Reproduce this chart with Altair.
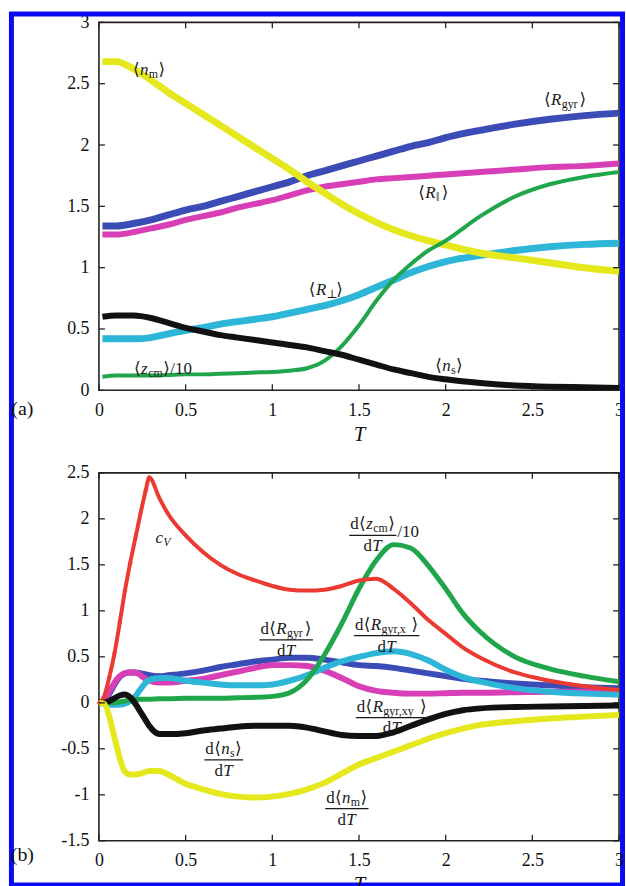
import altair as alt
import pandas as pd

# ---------------- panel (a): thermal averages vs temperature ----------------
T_A = [0.02, 0.1, 0.2, 0.3, 0.4, 0.5, 0.6, 0.7, 0.8, 0.9, 1.0, 1.1, 1.2, 1.3, 1.4,
       1.5, 1.6, 1.7, 1.8, 1.9, 2.0, 2.2, 2.4, 2.6, 2.8, 3.0]
N_M = [2.68, 2.68, 2.62, 2.53, 2.43, 2.34, 2.25, 2.16, 2.07, 1.98, 1.89, 1.80, 1.70,
       1.61, 1.52, 1.44, 1.37, 1.31, 1.26, 1.22, 1.185, 1.12, 1.08, 1.04, 1.00, 0.97]
R_GYR = [1.34, 1.34, 1.36, 1.39, 1.43, 1.47, 1.50, 1.54, 1.58, 1.62, 1.66, 1.70, 1.75,
         1.79, 1.83, 1.87, 1.91, 1.95, 1.99, 2.02, 2.06, 2.12, 2.17, 2.21, 2.24, 2.26]
R_PAR = [1.27, 1.27, 1.29, 1.32, 1.35, 1.39, 1.42, 1.45, 1.49, 1.52, 1.55, 1.59, 1.63,
         1.66, 1.68, 1.70, 1.72, 1.73, 1.74, 1.75, 1.76, 1.78, 1.80, 1.82, 1.83, 1.85]
R_PERP = [0.42, 0.42, 0.42, 0.43, 0.46, 0.49, 0.51, 0.54, 0.56, 0.58, 0.60, 0.63, 0.66,
          0.69, 0.73, 0.78, 0.84, 0.90, 0.96, 1.01, 1.05, 1.10, 1.14, 1.17, 1.19, 1.20]
N_S = [0.60, 0.61, 0.61, 0.59, 0.55, 0.51, 0.48, 0.45, 0.43, 0.41, 0.39, 0.37, 0.35,
       0.32, 0.29, 0.25, 0.21, 0.17, 0.14, 0.11, 0.09, 0.06, 0.04, 0.03, 0.025, 0.02]
Z_CM = [0.11, 0.12, 0.12, 0.12, 0.125, 0.13, 0.13, 0.135, 0.14, 0.145, 0.15, 0.16, 0.18,
        0.24, 0.36, 0.53, 0.73, 0.90, 1.03, 1.14, 1.22, 1.42, 1.58, 1.68, 1.74, 1.78]

# ---------------- panel (b): heat capacity and derivatives ----------------
T_B = [0, 0.03, 0.06, 0.09, 0.12, 0.15, 0.18, 0.21, 0.24, 0.27, 0.29, 0.35, 0.4, 0.5,
       0.6, 0.7, 0.8, 0.9, 1.0, 1.1, 1.2, 1.3, 1.4, 1.5, 1.6, 1.7, 1.8, 1.9, 2.0, 2.1,
       2.2, 2.4, 2.6, 2.8, 3.0]
C_V = [0.0, 0.07, 0.28, 0.54, 0.87, 1.22, 1.52, 1.79, 2.06, 2.31, 2.45, 2.22, 2.05, 1.82,
       1.64, 1.50, 1.40, 1.33, 1.27, 1.23, 1.22, 1.23, 1.27, 1.33, 1.35, 1.24, 1.08, 0.90,
       0.75, 0.60, 0.49, 0.33, 0.24, 0.18, 0.14]
DZ_CM = [0.0, 0.0, 0.0, 0.0, 0.01, 0.02, 0.03, 0.035, 0.04, 0.04, 0.04, 0.045, 0.045, 0.05,
         0.05, 0.05, 0.055, 0.06, 0.07, 0.11, 0.25, 0.52, 0.86, 1.24, 1.55, 1.72, 1.68, 1.49,
         1.24, 0.97, 0.77, 0.50, 0.37, 0.29, 0.23]
DR_GYR = [0.0, 0.02, 0.10, 0.20, 0.28, 0.32, 0.33, 0.33, 0.32, 0.31, 0.30, 0.29, 0.30, 0.32,
          0.35, 0.39, 0.42, 0.45, 0.47, 0.49, 0.49, 0.47, 0.44, 0.41, 0.40, 0.38, 0.35, 0.32,
          0.29, 0.26, 0.24, 0.21, 0.19, 0.17, 0.16]
DR_XY = [0.0, 0.03, 0.12, 0.22, 0.29, 0.32, 0.33, 0.33, 0.30, 0.26, 0.24, 0.22, 0.22, 0.24,
         0.26, 0.30, 0.34, 0.38, 0.41, 0.41, 0.40, 0.35, 0.27, 0.18, 0.13, 0.11, 0.10, 0.10,
         0.105, 0.11, 0.11, 0.115, 0.12, 0.12, 0.125]
DR_X = [0.0, -0.01, -0.02, -0.02, -0.02, -0.01, 0.02, 0.07, 0.15, 0.22, 0.25, 0.27, 0.27, 0.24,
        0.22, 0.20, 0.19, 0.19, 0.20, 0.24, 0.30, 0.38, 0.45, 0.50, 0.54, 0.56, 0.53, 0.46,
        0.36, 0.28, 0.23, 0.16, 0.12, 0.10, 0.09]
DN_S = [0.0, 0.0, 0.02, 0.05, 0.08, 0.09, 0.06, -0.01, -0.10, -0.19, -0.25, -0.34, -0.34, -0.33,
        -0.30, -0.28, -0.26, -0.25, -0.25, -0.25, -0.27, -0.31, -0.35, -0.36, -0.36, -0.32,
        -0.25, -0.18, -0.12, -0.08, -0.06, -0.045, -0.04, -0.035, -0.03]
DN_M = [0.0, -0.01, -0.15, -0.38, -0.60, -0.75, -0.78, -0.78, -0.77, -0.75, -0.74, -0.74, -0.78,
        -0.88, -0.94, -0.99, -1.02, -1.03, -1.02, -0.99, -0.94, -0.87, -0.77, -0.67, -0.60,
        -0.53, -0.46, -0.39, -0.33, -0.28, -0.24, -0.20, -0.17, -0.15, -0.13]

# axis ticks
X_TICKS = [0, 0.5, 1, 1.5, 2, 2.5, 3]
YA_TICKS = [0, 0.5, 1, 1.5, 2, 2.5, 3]
YB_TICKS = [-1.5, -1, -0.5, 0, 0.5, 1, 1.5, 2, 2.5]

YELLOW = "#e4e81c"
BLUE = "#3c4cb6"
MAGENTA = "#d83eb5"
CYAN = "#2eb6d8"
GREEN = "#1fa64a"
BLACK = "#111111"
RED = "#ea3a32"

SERIF = "Liberation Serif, DejaVu Serif, serif"
W, H = 523, 370
TICK = 6

# approximate advance widths (em) used to lay out the math labels
CHAR_EM = {"⟨": 0.42, "⟩": 0.42, "R": 0.63, "T": 0.58, "m": 0.80, "r": 0.40, "s": 0.42,
           ",": 0.45, "c": 0.46, "z": 0.42, "/": 0.30, "V": 0.63, "‖": 0.50, "⊥": 0.80,
           "d": 0.52, "n": 0.52, "g": 0.54, "y": 0.56, "x": 0.56, "1": 0.5, "0": 0.5}
SIZES = {"rm": 17, "it": 17, "sub": 12, "subit": 12}
SUB_DROP = 4


def make_panel(ydomain, yticks, series, labels, fracs, tag, tag_y, extra=None):
    xs = alt.Scale(domain=[0, 3], nice=False, zero=False)
    ys = alt.Scale(domain=ydomain, nice=False, zero=False)
    xax = alt.Axis(values=X_TICKS, ticks=False, tickSize=0, domain=False, grid=False,
                   labelPadding=11, labelFont=SERIF, labelFontSize=18, labelColor="#111",
                   labelExpr="datum.value + ''", labelFlush=False,
                   title="T", titleFont=SERIF, titleFontStyle="italic",
                   titleFontWeight="normal", titleFontSize=21, titlePadding=4,
                   titleColor="#111")
    yax = alt.Axis(values=yticks, ticks=False, tickSize=0, domain=False, grid=False,
                   labelPadding=10, labelFont=SERIF, labelFontSize=18, labelColor="#111",
                   labelExpr="datum.value + ''", labelFlush=False, title=None)

    def X():
        return alt.X("T:Q", scale=xs, axis=xax)

    def Y():
        return alt.Y("v:Q", scale=ys, axis=yax)

    layers = []
    for T, vals, color, width in series:
        df = pd.DataFrame({"T": T, "v": vals})
        layers.append(alt.Chart(df).mark_line(interpolate="monotone", color=color,
                                              strokeWidth=width, clip=True)
                      .encode(x=X(), y=Y()))
    if extra is not None:
        layers.extend(extra(X, Y))

    # inward tick marks on all four sides
    xt = pd.DataFrame({"T": X_TICKS})
    yt = pd.DataFrame({"v": yticks})
    layers.append(alt.Chart(xt).mark_rule(color="#222", strokeWidth=1.3)
                  .encode(x=X(), y=alt.value(0), y2=alt.value(TICK)))
    layers.append(alt.Chart(xt).mark_rule(color="#222", strokeWidth=1.3)
                  .encode(x=X(), y=alt.value(H - TICK), y2=alt.value(H)))
    layers.append(alt.Chart(yt).mark_rule(color="#222", strokeWidth=1.3)
                  .encode(y=Y(), x=alt.value(0), x2=alt.value(TICK)))
    layers.append(alt.Chart(yt).mark_rule(color="#222", strokeWidth=1.3)
                  .encode(y=Y(), x=alt.value(W - TICK), x2=alt.value(W)))

    def txt(T, v, s, dx, dy, size, style):
        df = pd.DataFrame({"T": [T], "v": [v], "s": [s]})
        return (alt.Chart(df)
                .mark_text(font=SERIF, fontSize=size, fontStyle=style, align="left",
                           baseline="middle", dx=dx, dy=dy, color="#1a1a1a")
                .encode(x=X(), y=Y(), text="s:N"))

    def row(T, v, tokens, dy):
        widths = [sum(CHAR_EM.get(c, 0.52) for c in t) * SIZES[k] for t, k in tokens]
        total = sum(widths)
        x = -total / 2
        out = []
        for (t, k), w in zip(tokens, widths):
            sub = k in ("sub", "subit")
            style = "italic" if k in ("it", "subit") else "normal"
            out.append(txt(T, v, t, x, dy + (SUB_DROP if sub else 0), SIZES[k], style))
            x += w
        return out, total

    for T, v, tokens in labels:
        out, _ = row(T, v, tokens, 0)
        layers.extend(out)

    for T, v, num, den, tail in fracs:
        a, wn = row(T, v, num, -11)
        b, wd = row(T, v, den, 11)
        w = max(wn, wd) + 2
        layers.extend(a)
        layers.extend(b)
        bar = pd.DataFrame({"T": [T], "v": [v]})
        layers.append(alt.Chart(bar)
                      .mark_rule(xOffset=-w / 2, x2Offset=w / 2, color="#1a1a1a",
                                 strokeWidth=1.2)
                      .encode(x=X(), x2=alt.X2("T:Q"), y=Y()))
        if tail:
            layers.append(txt(T, v, tail, w / 2 + 1, -3, 17, "normal"))

    # panel tag
    tag_df = pd.DataFrame({"s": [tag]})
    layers.append(alt.Chart(tag_df)
                  .mark_text(font=SERIF, fontSize=20, align="center", baseline="middle",
                             color="#111")
                  .encode(x=alt.value(-77), y=alt.value(tag_y), text="s:N"))
    return alt.layer(*layers).properties(width=W, height=H)


def br(sub):
    return [("⟨", "rm"), ("R", "it"), (sub, "sub"), ("⟩", "rm")]


labels_a = [
    (0.29, 2.61, [("⟨", "rm"), ("n", "it"), ("m", "sub"), ("⟩", "rm")]),
    (2.69, 2.37, br("gyr")),
    (1.93, 1.61, br("‖")),
    (1.31, 0.82, br("⊥")),
    (2.02, 0.20, [("⟨", "rm"), ("n", "it"), ("s", "sub"), ("⟩", "rm")]),
    (0.37, 0.17, [("⟨", "rm"), ("z", "it"), ("cm", "sub"), ("⟩", "rm"), ("/10", "rm")]),
]

DEN = [("d", "rm"), ("T", "it")]
labels_b = [(0.37, 1.79, [("c", "it"), ("V", "subit")])]
fracs_b = [
    (1.08, 0.685, [("d", "rm")] + br("gyr"), DEN, None),
    (1.58, 1.82, [("d", "rm"), ("⟨", "rm"), ("z", "it"), ("cm", "sub"), ("⟩", "rm")], DEN, "/10"),
    (1.66, 0.73, [("d", "rm")] + br("gyr,x"), DEN, None),
    (1.69, -0.16, [("d", "rm")] + br("gyr,xy"), DEN, None),
    (0.72, -0.62, [("d", "rm"), ("⟨", "rm"), ("n", "it"), ("s", "sub"), ("⟩", "rm")], DEN, None),
    (1.43, -1.15, [("d", "rm"), ("⟨", "rm"), ("n", "it"), ("m", "sub"), ("⟩", "rm")], DEN, None),
]


def frame(X, Y):
    # blue outline around the whole figure
    df = pd.DataFrame({"s": ["frame"]})
    return [alt.Chart(df).mark_rect(fillOpacity=0, stroke="#0a0af5", strokeWidth=5)
            .encode(x=alt.value(-88), x2=alt.value(526.5),
                    y=alt.value(-8.5), y2=alt.value(867.5))]


def cv_markers(X, Y):
    df = pd.DataFrame({"T": T_B, "v": C_V})
    return [alt.Chart(df).transform_filter("datum.T <= 0.29")
            .mark_point(shape="cross", filled=True, size=22, color=RED)
            .encode(x=X(), y=Y())]


series_a = [
    (T_A, R_PERP, CYAN, 7),
    (T_A, R_GYR, BLUE, 7),
    (T_A, R_PAR, MAGENTA, 6),
    (T_A, N_M, YELLOW, 7),
    (T_A, Z_CM, GREEN, 4),
    (T_A, N_S, BLACK, 6),
]
series_b = [
    (T_B, DR_GYR, BLUE, 6),
    (T_B, DR_XY, MAGENTA, 6),
    (T_B, DR_X, CYAN, 6),
    (T_B, DZ_CM, GREEN, 5),
    (T_B, C_V, RED, 4),
    (T_B, DN_S, BLACK, 6),
    (T_B, DN_M, YELLOW, 6),
]

panel_a = make_panel([0, 3], YA_TICKS, series_a, labels_a, [], "(a)", 389, extra=frame)
panel_b = make_panel([-1.5, 2.5], YB_TICKS, series_b, labels_b, fracs_b, "(b)", 384,
                     extra=cv_markers)

chart = (alt.VConcatChart(vconcat=[panel_a, panel_b], spacing=83, bounds="flush")
         .properties(padding={"left": 7.5, "top": 8, "right": 0, "bottom": 0},
                     background="white")
         .configure_view(stroke="#222", strokeWidth=1.6))

chart.save("out.html", embed_options={"renderer": "svg", "actions": False})
